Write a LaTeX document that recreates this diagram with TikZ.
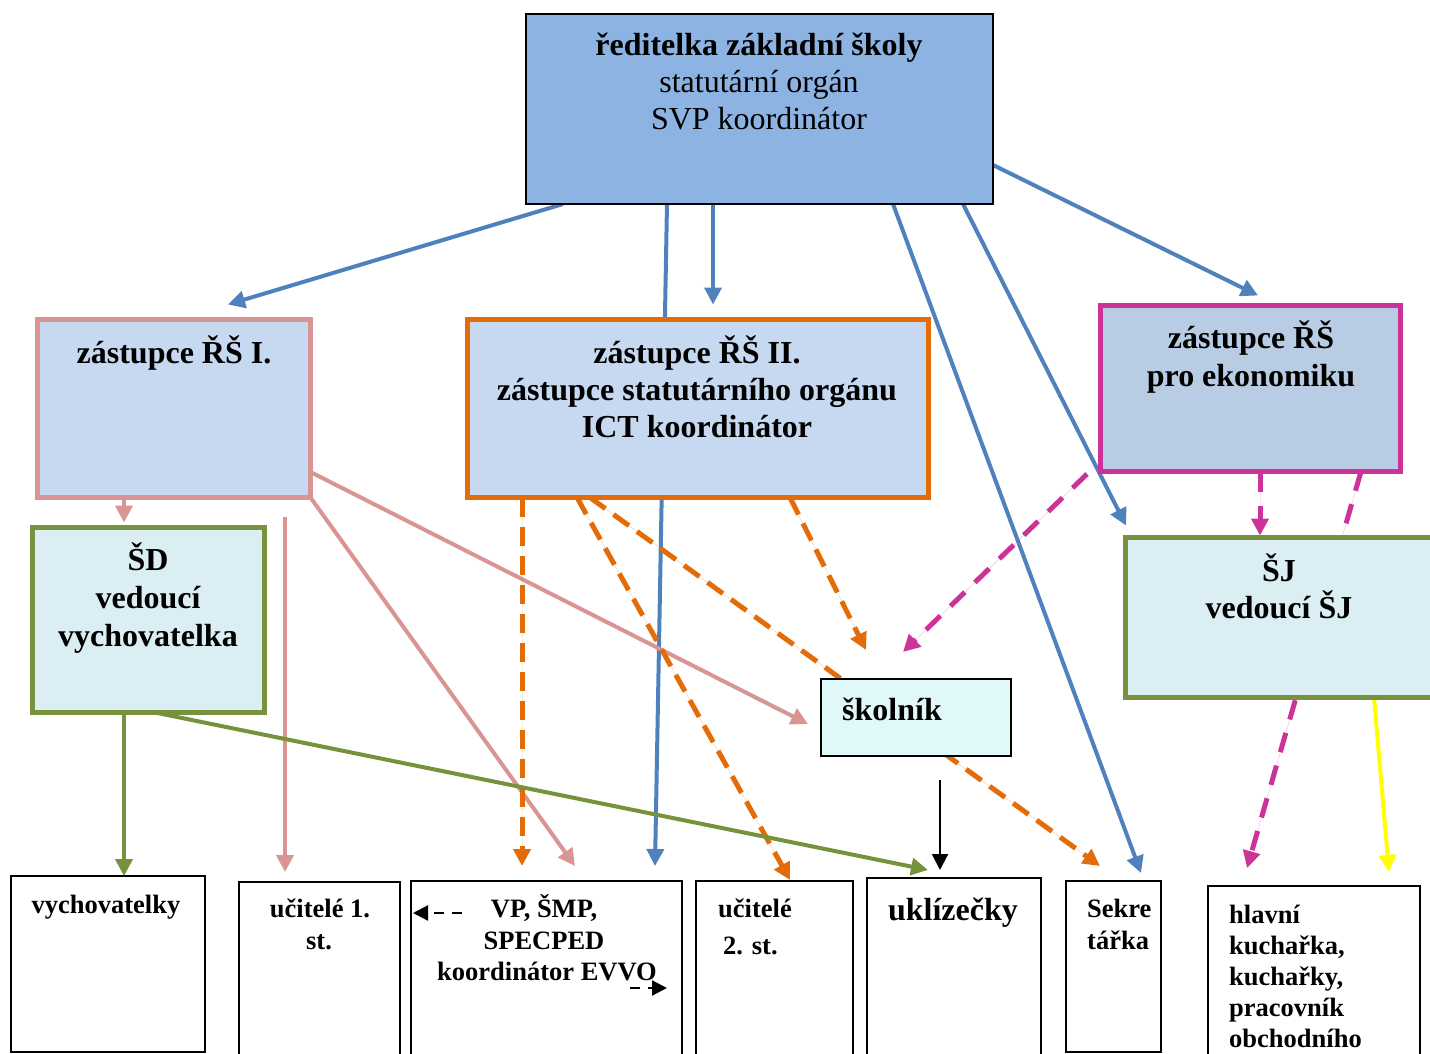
\documentclass[tikz,border=0pt]{standalone}
\usepackage{fontspec}
\setmainfont{Liberation Serif}
\usetikzlibrary{arrows.meta,backgrounds,calc}
\definecolor{cTop}{HTML}{8DB3E2}
\definecolor{cZ}{HTML}{C6D9F1}
\definecolor{cZE}{HTML}{B8CCE4}
\definecolor{cSD}{HTML}{DAEEF3}
\definecolor{cSk}{HTML}{E0F8FA}
\definecolor{cPink}{HTML}{D99594}
\definecolor{cOrange}{HTML}{E36C09}
\definecolor{cMag}{HTML}{CC3399}
\definecolor{cGreen}{HTML}{76923C}
\definecolor{cBlue}{HTML}{4F81BD}
\definecolor{cYellow}{HTML}{FFFF00}
\begin{document}
\begin{tikzpicture}[x=1pt,y=-1pt,
  box/.style={draw, rectangle, inner sep=0pt, outer sep=0pt, anchor=north west},
  leafbox/.style={box, fill=white, draw=black, line width=1.8pt},
  txt/.style={inner sep=0pt, anchor=base},
  ltxt/.style={inner sep=0pt, anchor=base west},
  Lb/.style={font=\fontsize{32}{37}\selectfont\bfseries},
  Lr/.style={font=\fontsize{32}{37}\selectfont},
  Sb/.style={font=\fontsize{26.5}{31}\selectfont\bfseries},
  headbig/.style={-{Triangle[length=17pt,width=17pt]}},
  bluearr/.style={headbig, draw=cBlue, fill=cBlue, line width=4pt},
  pinkarr/.style={headbig, draw=cPink, fill=cPink, line width=4pt},
  greenarr/.style={headbig, draw=cGreen, fill=cGreen, line width=4pt},
  yelarr/.style={headbig, draw=cYellow, fill=cYellow, line width=4pt},
  orangearr/.style={headbig, draw=cOrange, fill=cOrange, line width=5pt, dash pattern=on 19pt off 10pt},
  magarr/.style={headbig, draw=cMag, fill=cMag, line width=5pt, dash pattern=on 20pt off 14pt},
  blackarr/.style={-{Triangle[length=16pt,width=16pt]}, draw=black, line width=2pt},
  smallarr/.style={-{Triangle[length=15pt,width=15pt]}, draw=black, line width=2.2pt, dash pattern=on 10pt off 8pt}
]
\useasboundingbox (0,0) rectangle (1430,1054);

% boxes
\node[box, fill=cTop, draw=black, line width=2pt, minimum width=467pt, minimum height=190pt] (top) at (526,14) {};
\node[box, fill=cZ, draw=cPink, line width=5pt, minimum width=273pt, minimum height=178pt] (z1) at (37.5,319.5) {};
\node[box, fill=cZ, draw=cOrange, line width=5pt, minimum width=461pt, minimum height=178pt] (z2) at (467.5,319.5) {};
\node[box, fill=cZE, draw=cMag, line width=5pt, minimum width=300pt, minimum height=166pt] (zE) at (1100.5,305.5) {};
\node[box, fill=cSD, draw=cGreen, line width=5pt, minimum width=232pt, minimum height=185pt] (SD) at (32.5,527.5) {};
\node[box, fill=cSD, draw=cGreen, line width=5pt, minimum width=330pt, minimum height=160pt] (SJ) at (1125.5,537.5) {};
\node[box, fill=cSk, draw=black, line width=1.8pt, minimum width=190pt, minimum height=77pt] (sk) at (821,679) {};
\node[leafbox, minimum width=194pt, minimum height=176pt] (vych) at (11,876) {};
\node[leafbox, minimum width=161pt, minimum height=190pt] (uc1) at (239,882) {};
\node[leafbox, minimum width=271pt, minimum height=190pt] (VP) at (411,881) {};
\node[leafbox, minimum width=157pt, minimum height=190pt] (uc2) at (696,881) {};
\node[leafbox, minimum width=174pt, minimum height=190pt] (ukl) at (867,878) {};
\node[leafbox, minimum width=95pt, minimum height=171pt] (sek) at (1066,881) {};
\node[leafbox, minimum width=212pt, minimum height=190pt] (kuch) at (1208,886) {};

% texts
\node[txt, Lb] (t1a) at (759,56) {ředitelka základní školy};
\node[txt, Lr] (t1b) at (759,93) {statutární orgán};
\node[txt, Lr] (t1c) at (759,129.5) {SVP koordinátor};
\node[txt, Lb] (t2a) at (174,363) {zástupce ŘŠ I.};
\node[txt, Lb] (t3a) at (697,363) {zástupce ŘŠ II.};
\node[txt, Lb] (t3b) at (697,400) {zástupce statutárního orgánu};
\node[txt, Lb] (t3c) at (697,437) {ICT koordinátor};
\node[txt, Lb] (t4a) at (1251,348) {zástupce ŘŠ};
\node[txt, Lb] (t4b) at (1251,386.5) {pro ekonomiku};
\node[txt, Lb] (t5a) at (148,570) {ŠD};
\node[txt, Lb] (t5b) at (148,608) {vedoucí};
\node[txt, Lb] (t5c) at (148,646) {vychovatelka};
\node[txt, Lb] (t6a) at (1279,581) {ŠJ};
\node[txt, Lb] (t6b) at (1279,618) {vedoucí ŠJ};
\node[ltxt, Lb] (t7a) at (842,720) {školník};
\node[txt, Sb] (t8a) at (106,913) {vychovatelky};
\node[txt, Sb] (t9a) at (320,917) {učitelé 1.};
\node[txt, Sb] (t9b) at (319,949) {st.};
\node[txt, Sb] (t10a) at (544,917) {VP, ŠMP,};
\node[txt, Sb] (t10b) at (544,949) {SPECPED};
\node[txt, Sb] (t10c) at (547,980.5) {koordinátor EVVO};
\node[ltxt, Sb] (t11a) at (718,917) {učitelé};
\node[ltxt, Sb] (t11b) at (723,954) {2. st.};
\node[txt, Lb] (t12a) at (953,920) {uklízečky};
\node[ltxt, Sb] (t13a) at (1087,917) {Sekre};
\node[ltxt, Sb] (t13b) at (1087,949) {tářka};
\node[ltxt, Sb] (t14a) at (1229,923) {hlavní};
\node[ltxt, Sb] (t14b) at (1229,954) {kuchařka,};
\node[ltxt, Sb] (t14c) at (1229,985) {kuchařky,};
\node[ltxt, Sb] (t14d) at (1229,1016) {pracovník};
\node[ltxt, Sb] (t14e) at (1229,1047) {obchodního};

% small dashed arrows inside VP box
\draw[smallarr] ([xshift=51pt,yshift=-32pt]VP.north west) -- ([xshift=2pt,yshift=-32pt]VP.north west);
\draw[smallarr] ([xshift=219pt,yshift=-107pt]VP.north west) -- ([xshift=256pt,yshift=-107pt]VP.north west);

% connectors behind the boxes
\begin{pgfonlayer}{background}
% blue from director
\draw[bluearr] ([xshift=37pt]top.south west) -- ([xshift=54pt,yshift=15pt]z1.north);
\draw[bluearr] ([xshift=141pt]top.south west) -- ([xshift=244pt,yshift=15pt]VP.north west);
\draw[bluearr] ([xshift=187pt]top.south west) -- ([xshift=245.5pt,yshift=15pt]z2.north west);
\draw[bluearr] ([xshift=367pt]top.south west) -- ([xshift=75pt,yshift=8pt]sek.north west);
\draw[bluearr] ([xshift=437pt]top.south west) -- ([xshift=0.5pt,yshift=12pt]SJ.north west);
\draw[bluearr] ([yshift=39pt]top.south east) -- ([xshift=157.5pt,yshift=10pt]zE.north west);
% pink from z1
\draw[pinkarr] ([xshift=86.5pt]z1.south west) -- ([xshift=91.5pt,yshift=5pt]SD.north west);
\coordinate (h0) at ([xshift=247.5pt,yshift=-19.5pt]z1.south west);
\draw[pinkarr] (h0) -- ([xshift=46pt,yshift=10pt]uc1.north west);
\draw[pinkarr] (z1.south east) -- ([xshift=164pt,yshift=15pt]VP.north west);
\draw[pinkarr] ([yshift=25.5pt]z1.south east) -- ([xshift=-13pt,yshift=-6.5pt]sk.west);
% orange from z2
\draw[orangearr] ([xshift=54.5pt]z2.south west) -- ([xshift=111pt,yshift=15pt]VP.north west);
\draw[orangearr] ([xshift=109.5pt]z2.south west) -- ([xshift=94pt,yshift=1pt]uc2.north west);
\draw[orangearr] ([xshift=122.5pt]z2.south west) -- ([xshift=34pt,yshift=15pt]sek.north west);
\draw[orangearr] ([xshift=322.5pt]z2.south west) -- ([xshift=45pt,yshift=29pt]sk.north west);
% magenta from zE
\draw[magarr] ([xshift=-13.5pt,yshift=-2.5pt]zE.south west) -- ([xshift=82pt,yshift=27pt]sk.north west);
\draw[magarr] ([xshift=159.5pt]zE.south west) -- ([xshift=134.5pt,yshift=2pt]SJ.north west);
\draw[magarr] ([xshift=260.5pt]zE.south west) -- ([xshift=39pt,yshift=18pt]kuch.north west);
% yellow from SJ
\draw[yelarr] ([xshift=248.5pt]SJ.south west) -- ([xshift=181pt,yshift=14pt]kuch.north west);
% green from SD
\draw[greenarr] ([xshift=91.5pt]SD.south west) -- ([xshift=113pt]vych.north west);
\draw[greenarr] ([xshift=122.5pt]SD.south west) -- ([xshift=61pt,yshift=8pt]ukl.north west);
% black from skolnik
\coordinate (k0) at ([xshift=119pt,yshift=-24pt]sk.south west);
\draw[blackarr] (k0) -- ([xshift=73pt,yshift=8pt]ukl.north west);
\end{pgfonlayer}
\end{tikzpicture}
\end{document}
